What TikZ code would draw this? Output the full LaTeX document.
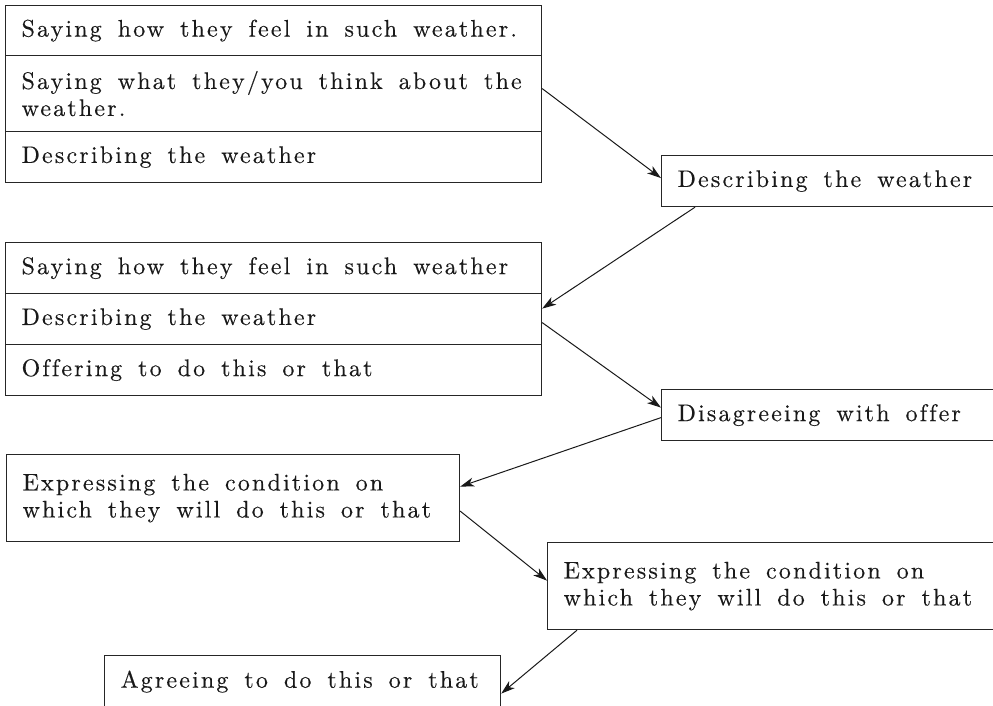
\documentclass[tikz,border=0pt]{standalone}
\usepackage{fontspec}
\newfontfamily\boxfont{lmroman10-regular.otf}[LetterSpace=9, Ligatures=NoCommon, FakeBold=0.3]
\newcommand\mywordgap{\spaceskip=16pt plus 1pt minus 1pt\relax}
\usetikzlibrary{arrows.meta}
\begin{document}
\begin{tikzpicture}[x=1pt,y=-1pt,
  box/.style={draw=black!85, line width=1.2pt, rectangle, anchor=north west,
    inner xsep=16pt, inner ysep=0pt, align=left,
    font=\boxfont\fontsize{24pt}{27pt}\selectfont,
    execute at begin node=\mywordgap,
    text=black!90},
  link/.style={draw=black!90, line width=1pt,
    -{Stealth[length=14pt,width=9pt,inset=4pt]}}]
\useasboundingbox (0,0) rectangle (993,705);
\clip (0,0) rectangle (993,705);
% group 1
\node[box, minimum width=536pt, minimum height=50pt, text width=504pt] (g1a) at (5,5) {\mbox{Saying how they feel in such weather.}};
\node[box, minimum width=536pt, minimum height=76pt, text width=504pt] (g1b) at (5,55) {\mbox{Saying what they/you think about the}\\\mbox{weather.}};
\node[box, minimum width=536pt, minimum height=51pt, text width=504pt] (g1c) at (5,131) {\mbox{Describing the weather}};
% box 2
\node[box, minimum width=349pt, minimum height=51pt, text width=317pt] (b2) at (661,155) {\mbox{Describing the weather}};
% group 2
\node[box, minimum width=536pt, minimum height=51pt, text width=504pt] (g2a) at (5,242) {\mbox{Saying how they feel in such weather}};
\node[box, minimum width=536pt, minimum height=51pt, text width=504pt] (g2b) at (5,293) {\mbox{Describing the weather}};
\node[box, minimum width=536pt, minimum height=51pt, text width=504pt] (g2c) at (5,344) {\mbox{Offering to do this or that}};
% box 3
\node[box, minimum width=349pt, minimum height=51pt, text width=317pt] (b3) at (661,389) {\mbox{Disagreeing with offer}};
% box 4
\node[box, minimum width=453pt, minimum height=87pt, text width=421pt] (b4) at (6,454) {\mbox{Expressing the condition on}\\\mbox{which they will do this or that}};
% box 5
\node[box, minimum width=463pt, minimum height=87pt, text width=431pt] (b5) at (547,542) {\mbox{Expressing the condition on}\\\mbox{which they will do this or that}};
% box 6
\node[box, minimum width=396pt, minimum height=52pt, text width=364pt] (b6) at (104,655) {\mbox{Agreeing to do this or that}};
% arrows
\draw[link] ([yshift=5pt]g1b.east) -- ([yshift=3pt]b2.west);
\draw[link] ([xshift=34pt]b2.south west) -- ([yshift=10.5pt]g2b.east);
\draw[link] ([yshift=-3.5pt]g2b.east) -- ([yshift=7.5pt]b3.west);
\draw[link] ([yshift=-2.5pt]b3.west) -- ([yshift=11.5pt]b4.east);
\draw[link] ([yshift=-13pt]b4.east) -- ([yshift=5.5pt]b5.west);
\draw[link] ([xshift=30pt]b5.south west) -- ([yshift=-12pt]b6.east);
\end{tikzpicture}
\end{document}
